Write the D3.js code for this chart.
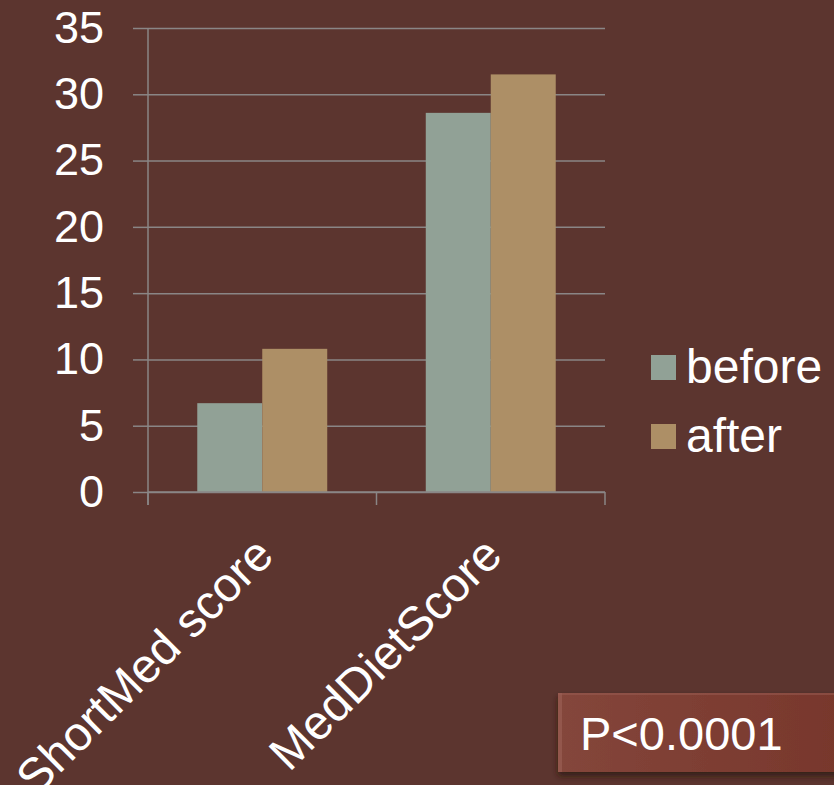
<!DOCTYPE html>
<html>
<head>
<meta charset="utf-8">
<script src="https://cdn.jsdelivr.net/npm/d3@7"></script>
<style>
  html, body { margin: 0; padding: 0; background: #5c352f; }
  svg { display: block; }
  text { font-family: "Liberation Sans", Arial, sans-serif; fill: #ffffff; }
</style>
</head>
<body>
<svg id="chart" width="834" height="785"></svg>
<script>
const categories = ["ShortMed score", "MedDietScore"];
const seriesNames = ["before", "after"];
const beforeValues = [6.7, 28.6];
const afterValues = [10.8, 31.5];
const yTicks = [0, 5, 10, 15, 20, 25, 30, 35];
const annotation = "P<0.0001";

const colors = { before: "#91a196", after: "#ad8f66" };
const gridColor = "#8a8686";

const svg = d3.select("#chart");
svg.append("rect").attr("width", 834).attr("height", 785).attr("fill", "#5c352f");

const plotLeft = 148, plotRight = 605, plotTop = 28, plotBottom = 492;

const y = d3.scaleLinear().domain([0, 35]).range([plotBottom, plotTop]);
const x0 = d3.scaleBand().domain(categories).range([plotLeft, plotRight]).padding(0);
const x1 = d3.scaleBand().domain(seriesNames).range([0, x0.bandwidth()])
  .paddingInner(0).paddingOuter(0.758);

// gridlines
const grid = svg.append("g").attr("transform", `translate(${plotLeft},0)`)
  .call(d3.axisLeft(y).tickValues(yTicks).tickSize(-(plotRight - plotLeft)).tickFormat(""));
grid.select(".domain").remove();
grid.selectAll("line").attr("stroke", gridColor).attr("stroke-width", 1.5);

// left tick marks
const yAxis = svg.append("g").attr("transform", `translate(${plotLeft},0)`)
  .call(d3.axisLeft(y).tickValues(yTicks).tickSize(15).tickPadding(29));
yAxis.select(".domain").remove();
yAxis.selectAll("line").attr("stroke", gridColor).attr("stroke-width", 1.5);
yAxis.selectAll("text").attr("font-size", 45).attr("fill", "#fff")
  .attr("font-family", "'Liberation Sans', Arial, sans-serif");

// vertical axis line
svg.append("line").attr("x1", plotLeft).attr("x2", plotLeft).attr("y1", plotTop).attr("y2", plotBottom + 13)
  .attr("stroke", gridColor).attr("stroke-width", 1.5);

// data
const data = categories.map((c, i) => ({ cat: c, before: beforeValues[i], after: afterValues[i] }));

const groups = svg.append("g").selectAll("g").data(data).join("g")
  .attr("transform", d => `translate(${x0(d.cat)},0)`);
groups.selectAll("rect").data(d => seriesNames.map(s => ({ s, v: d[s] }))).join("rect")
  .attr("x", d => x1(d.s))
  .attr("width", x1.bandwidth())
  .attr("y", d => y(d.v))
  .attr("height", d => y(0) - y(d.v))
  .attr("fill", d => colors[d.s]);

// bottom axis
const xAxisG = svg.append("g");
xAxisG.append("line").attr("x1", plotLeft).attr("x2", plotRight).attr("y1", plotBottom).attr("y2", plotBottom)
  .attr("stroke", gridColor).attr("stroke-width", 1.5);
const tickXs = categories.map(c => x0(c)).concat([x0(categories[categories.length - 1]) + x0.bandwidth()]);
xAxisG.selectAll("line.tick").data(tickXs).join("line").attr("class", "tick")
  .attr("x1", d => d).attr("x2", d => d).attr("y1", plotBottom).attr("y2", plotBottom + 13)
  .attr("stroke", gridColor).attr("stroke-width", 1.5);

// category labels
svg.append("g").selectAll("text").data(categories).join("text")
  .attr("transform", d => `translate(${x0(d) + x0.bandwidth() / 2 + 2},${plotBottom + 54}) rotate(-45)`)
  .attr("text-anchor", "end")
  .attr("dominant-baseline", "central")
  .attr("font-size", 48)
  .text(d => d);

// legend
const legend = svg.append("g").selectAll("g").data(seriesNames).join("g")
  .attr("transform", (d, i) => `translate(651,${355 + i * 69})`);
legend.append("rect").attr("width", 25).attr("height", 25).attr("fill", d => colors[d]);
legend.append("text").attr("x", 35).attr("y", 28).attr("font-size", 48).text(d => d);

// annotation box
const defs = svg.append("defs");
const grad = defs.append("linearGradient").attr("id", "boxGrad").attr("x1", 0).attr("x2", 1).attr("y1", 0).attr("y2", 0);
grad.append("stop").attr("offset", "0%").attr("stop-color", "#84463b");
grad.append("stop").attr("offset", "100%").attr("stop-color", "#77362b");
const filt = defs.append("filter").attr("id", "shadow").attr("x", "-10%").attr("y", "-20%").attr("width", "130%").attr("height", "150%");
filt.append("feDropShadow").attr("dx", 0).attr("dy", 4).attr("stdDeviation", 3).attr("flood-color", "#2a1410").attr("flood-opacity", 0.8);

svg.append("rect").attr("x", 558).attr("y", 693).attr("width", 300).attr("height", 79)
  .attr("fill", "url(#boxGrad)").attr("filter", "url(#shadow)");
svg.append("rect").attr("x", 558).attr("y", 693).attr("width", 4).attr("height", 79)
  .attr("fill", "#9a5e54").attr("opacity", 0.7);
svg.append("rect").attr("x", 558).attr("y", 693).attr("width", 300).attr("height", 2)
  .attr("fill", "#9a5e54").attr("opacity", 0.5);
svg.append("text").attr("x", 580).attr("y", 750).attr("font-size", 47).text(annotation);
</script>
</body>
</html>
